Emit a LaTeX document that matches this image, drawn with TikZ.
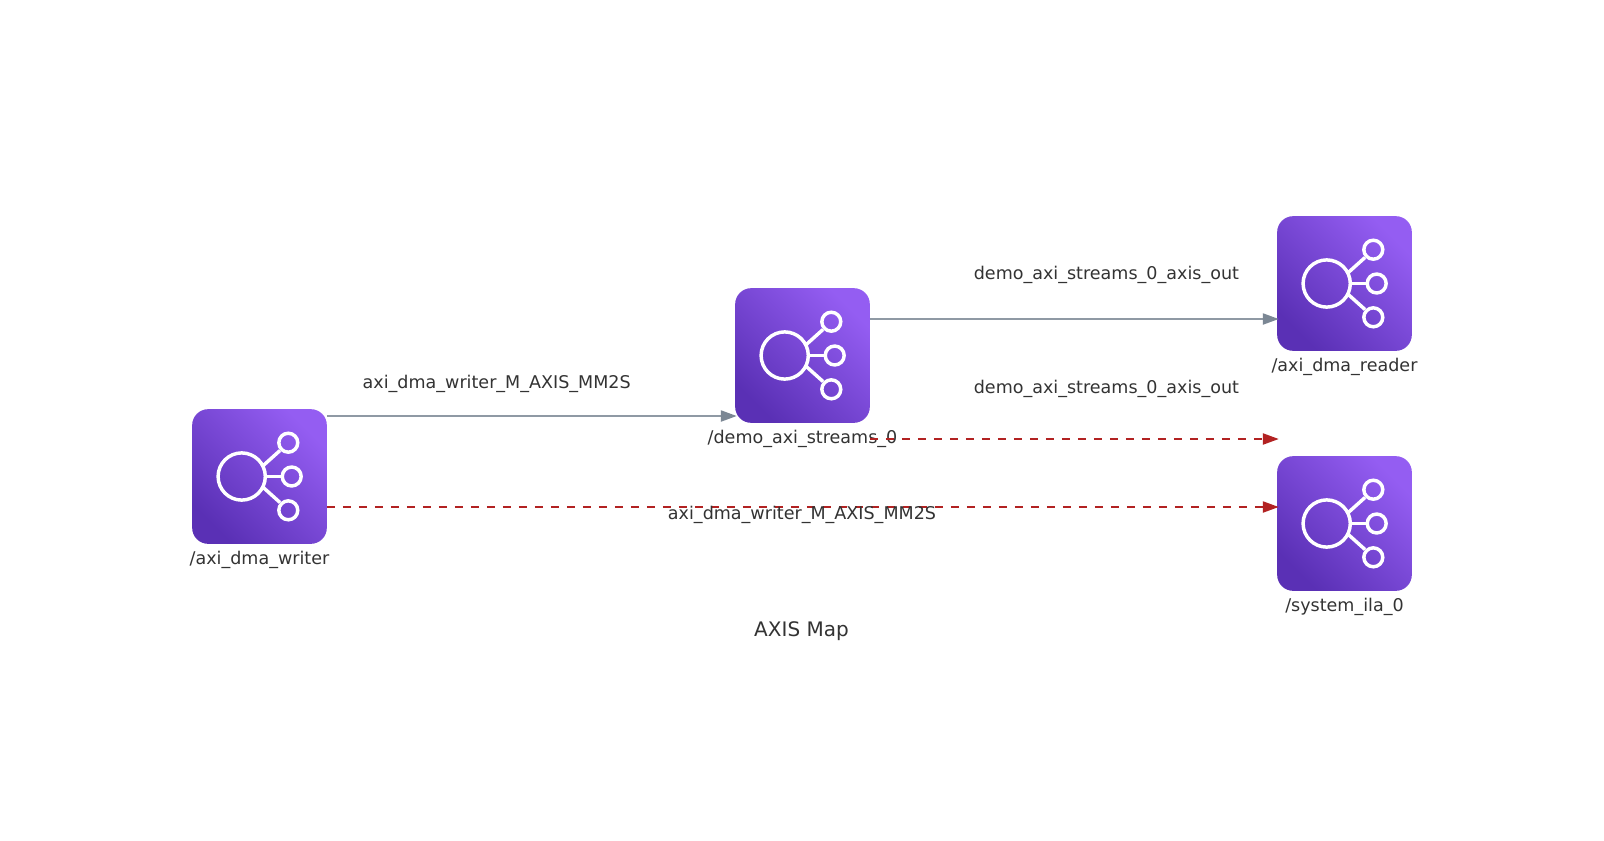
\documentclass[tikz,border=0pt]{standalone}
\usepackage{fontspec}
\setmainfont{DejaVu Sans}
\usetikzlibrary{arrows.meta,calc}
\definecolor{gdark}{HTML}{5A30B5}
\definecolor{glight}{HTML}{945DF2}
\definecolor{edgegray}{HTML}{7B8794}
\definecolor{edgered}{HTML}{B22222}
\definecolor{labeltext}{HTML}{333333}
\tikzset{
  x=0.75pt,y=-0.75pt,
  svcbox/.style={minimum size=101pt,inner sep=0pt,outer sep=0pt,rounded corners=12pt,
    shade,shading=axis,left color=gdark,right color=glight,shading angle=135},
  iconline/.style={draw=white,line width=2.6pt,fill=none},
  lbl/.style={text=labeltext,font=\fontsize{13.15pt}{15pt}\selectfont,anchor=base,inner sep=0pt},
  ttl/.style={text=labeltext,font=\fontsize{15pt}{18pt}\selectfont,anchor=base,inner sep=0pt},
  flow/.style={draw=edgegray!85,line width=1pt,-{Triangle[length=11.8pt,width=8.4pt,color=edgegray]}},
  mon/.style={draw=edgered,line width=1pt,dash pattern=on 6.2pt off 5.8pt,-{Triangle[length=11.8pt,width=8.4pt]}},
}
\newcommand{\svcicon}[1]{%
  \begin{scope}[shift={(#1.center)}]
    \draw[iconline] (-17.8,0) circle[radius=17.7pt];
    \draw[iconline] (28.8,-33.8) circle[radius=7.1pt];
    \draw[iconline] (32.2,0) circle[radius=7.1pt];
    \draw[iconline] (28.8,33.8) circle[radius=7.1pt];
    \draw[iconline] (3.8,-11) -- (20.5,-26);
    \draw[iconline] (7.2,0) -- (22.5,0);
    \draw[iconline] (3.8,11) -- (20.5,26);
  \end{scope}}
\begin{document}
\begin{tikzpicture}
\useasboundingbox (0,0) rectangle (1604,840);
\fill[white] (0,0) rectangle (1604,840);
\node[svcbox] (writer) at (259.5,476.5) {};
\node[svcbox] (demo) at (802.5,355.5) {};
\node[svcbox] (reader) at (1344.5,283.5) {};
\node[svcbox] (ila) at (1344.5,523.5) {};
\svcicon{writer}\svcicon{demo}\svcicon{reader}\svcicon{ila}
\node[lbl] (writername) at (259.5,564.3) {/axi\_dma\_writer};
\node[lbl] (demoname) at (802.5,443.3) {/demo\_axi\_streams\_0};
\node[lbl] (readername) at (1344.5,371.3) {/axi\_dma\_reader};
\node[lbl] (ilaname) at (1344.5,611.3) {/system\_ila\_0};
\coordinate (demoend) at ($(reader.west)+(1.5,155.5)$);
\draw[flow] ([yshift=45.375pt]writer.east) -- ([xshift=1.1pt,yshift=-45.375pt]demo.west);
\draw[flow] ([yshift=27.375pt]demo.east) -- ([xshift=1.1pt,yshift=-26.625pt]reader.west);
\draw[mon] ([yshift=-62.625pt]demo.east) -- (demoend);
\draw[mon] ([yshift=-22.875pt]writer.east) -- ([xshift=1.1pt,yshift=12.375pt]ila.west);
\node[lbl] (l1) at (496.7,388) {axi\_dma\_writer\_M\_AXIS\_MM2S};
\node[lbl] (l2) at (802,519.5) {axi\_dma\_writer\_M\_AXIS\_MM2S};
\node[lbl] (l3) at (1106.4,279) {demo\_axi\_streams\_0\_axis\_out};
\node[lbl] (l4) at (1106.4,393) {demo\_axi\_streams\_0\_axis\_out};
\node[ttl] (title) at (801.5,636) {AXIS Map};
\end{tikzpicture}
\end{document}
